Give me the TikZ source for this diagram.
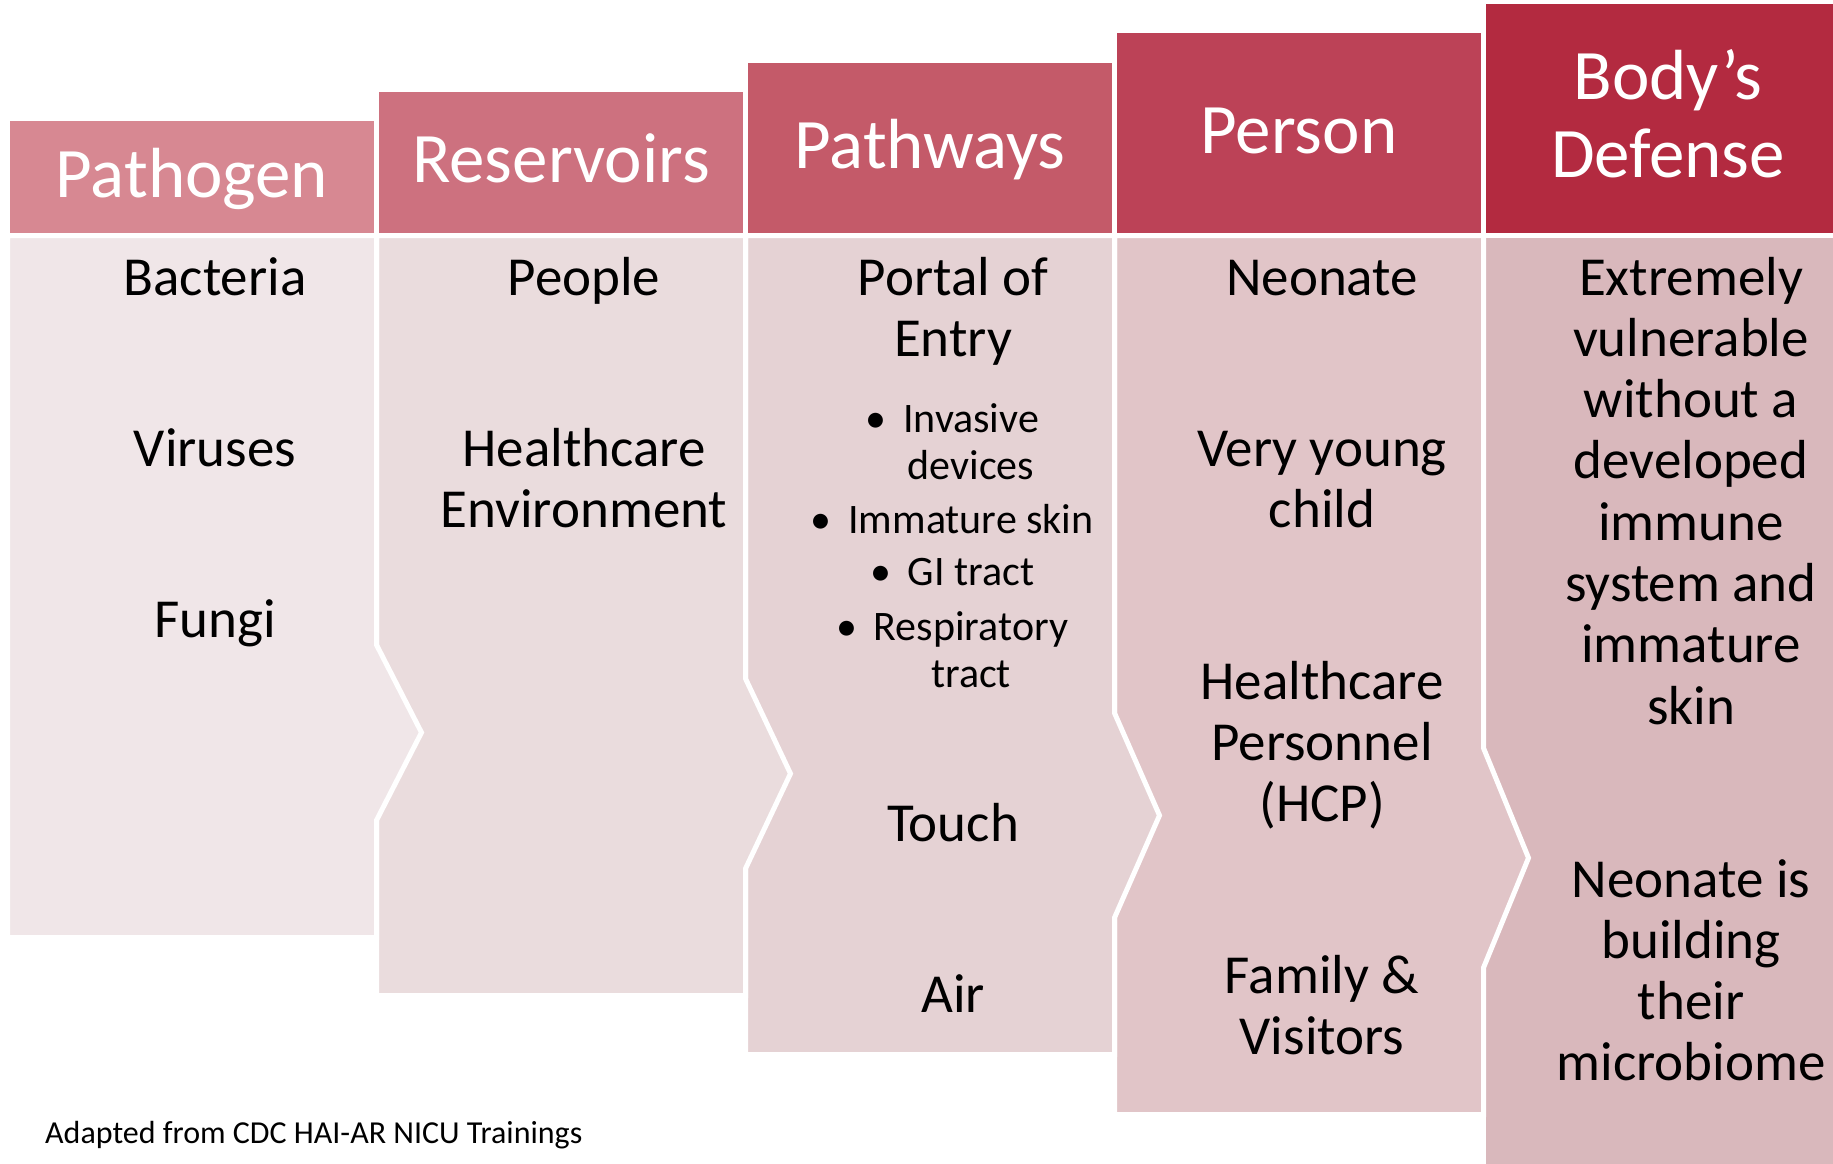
\documentclass[tikz,border=0pt]{standalone}
\usepackage{fontspec}
\setmainfont{Carlito}
% header fills, light to dark
\definecolor{hA}{HTML}{D78892}
\definecolor{hB}{HTML}{CD717F}
\definecolor{hC}{HTML}{C45A69}
\definecolor{hD}{HTML}{BC4257}
\definecolor{hE}{HTML}{B32A40}
% body fills, light to dark
\definecolor{bA}{HTML}{F0E6E8}
\definecolor{bB}{HTML}{EADCDD}
\definecolor{bC}{HTML}{E5D2D4}
\definecolor{bD}{HTML}{E1C5C8}
\definecolor{bE}{HTML}{D9B8BC}
% centred stack of lines whose baseline is the first line's baseline
\newcommand\lines[1]{\vtop{\halign{\hfil##\hfil\cr#1\crcr}}}
% bullet followed by a fixed indent
\newcommand\bul{\makebox[32pt][l]{\makebox[10pt]{\textbullet}}}
\newcommand\ind{\hspace*{32pt}}
\begin{document}
\begin{tikzpicture}[x=1pt,y=-1pt,
  panel/.style={draw=white,line width=5pt,line join=miter},
  hdr/.style={text=white,font=\fontsize{71}{78}\selectfont,anchor=base,inner sep=0pt},
  item/.style={text=black,font=\fontsize{55}{61.3}\selectfont,anchor=base,inner sep=0pt},
  bitem/.style={text=black,font=\fontsize{42}{47}\selectfont,anchor=base,inner sep=0pt},
  note/.style={text=black,font=\fontsize{32}{38}\selectfont,anchor=base west,inner sep=0pt}]
\useasboundingbox (0,0) rectangle (1833,1163);
\clip (0,0) rectangle (1833,1163);

% header blocks, rising step by step
\path[panel,fill=hA] (7.5,118.5)  rectangle (376.5,235.5);
\path[panel,fill=hB] (376.5,89.25) rectangle (745.5,235.5);
\path[panel,fill=hC] (745.5,60)    rectangle (1114.5,235.5);
\path[panel,fill=hD] (1114.5,30.75) rectangle (1483.5,235.5);
\path[panel,fill=hE] (1483.5,1.5)  rectangle (1852.5,235.5);

% body panels, drawn back to front so each chevron overlaps its neighbour
\path[panel,fill=bE] (1483.5,235.5) rectangle (1852.5,1180);
\path[panel,fill=bD] (1114.5,235.5) -- (1483.5,235.5) -- (1483.5,748.0) -- (1528.5,857.9)
  -- (1483.5,967.7) -- (1483.5,1114.5) -- (1114.5,1114.5) -- cycle;
\path[panel,fill=bC] (745.5,235.5) -- (1114.5,235.5) -- (1114.5,713.0) -- (1159.5,815.4)
  -- (1114.5,917.7) -- (1114.5,1054.5) -- (745.5,1054.5) -- cycle;
\path[panel,fill=bB] (376.5,235.5) -- (745.5,235.5) -- (745.5,678.6) -- (790.5,773.6)
  -- (745.5,868.6) -- (745.5,995.5) -- (376.5,995.5) -- cycle;
\path[panel,fill=bA] (7.5,235.5) -- (376.5,235.5) -- (376.5,644.8) -- (421.5,732.5)
  -- (376.5,820.3) -- (376.5,937.5) -- (7.5,937.5) -- cycle;

% header titles
\node[hdr] (tPathogen)   at (192,197.3)  {Pathogen};
\node[hdr] (tReservoirs) at (561,182.7)  {Reservoirs};
\node[hdr] (tPathways)   at (930,168.3)  {Pathways};
\node[hdr] (tPerson)     at (1299,153.3) {Person};
\node[hdr] (tDefense)    at (1668,99.3)  {\lines{Body’s\cr Defense}};

% pathogen column
\node[item] (bacteria) at (215,295) {Bacteria};
\node[item] (viruses)  at (215,466) {Viruses};
\node[item] (fungi)    at (215,637) {Fungi};

% reservoirs column
\node[item] (people)  at (584,295) {People};
\node[item] (hcenv)   at (584,466) {\lines{Healthcare\cr Environment}};

% pathways column
\node[item]  (portal)   at (953,295) {\lines{Portal of\cr Entry}};
\node[bitem] (invasive) at (955,432) {\lines{\bul Invasive\cr\ind devices}};
\node[bitem] (skin)     at (955,533) {\lines{\bul Immature skin}};
\node[bitem] (gi)       at (955,585) {\lines{\bul GI tract}};
\node[bitem] (resp)     at (955,640) {\lines{\bul Respiratory\cr\ind tract}};
\node[item]  (touch)    at (953,841) {Touch};
\node[item]  (air)      at (953,1012) {Air};

% person column
\node[item] (neonate) at (1322,295) {Neonate};
\node[item] (child)   at (1322,466) {\lines{Very young\cr child}};
\node[item] (hcp)     at (1322,699) {\lines{Healthcare\cr Personnel\cr (HCP)}};
\node[item] (family)  at (1322,993) {\lines{Family \&\cr Visitors}};

% body's defense column
\node[item] (vulnerable) at (1691,295) {\lines{Extremely\cr vulnerable\cr without a\cr developed\cr immune\cr system and\cr immature\cr skin}};
\node[item] (microbiome) at (1691,897) {\lines{Neonate is\cr building\cr their\cr microbiome}};

% source note
\node[note] (source) at (45,1143) {Adapted from CDC HAI-AR NICU Trainings};
\end{tikzpicture}
\end{document}
